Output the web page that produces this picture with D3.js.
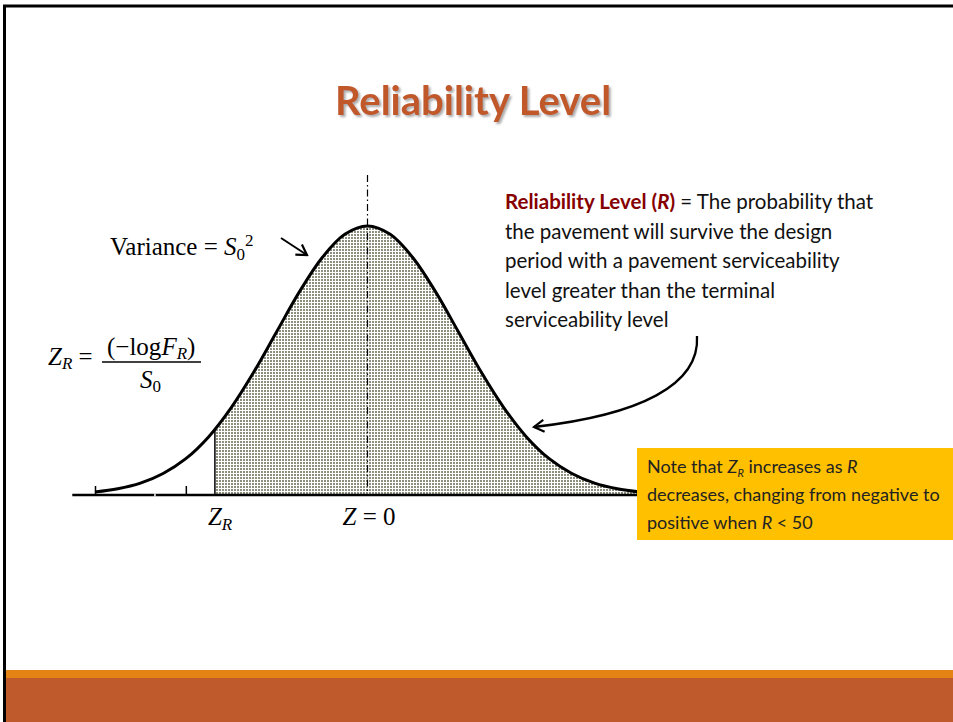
<!DOCTYPE html>
<html>
<head>
<meta charset="utf-8">
<script src="https://cdn.jsdelivr.net/npm/d3@7"></script>
<style>
 body { margin: 0; background: #fff; }
 svg { display: block; }
</style>
</head>
<body>
<div id="slide"></div>
<script>
// curve: z position and relative height (peak = 1)
const zValues = [-3, -2.75, -2.5, -2.25, -2, -1.75, -1.5, -1.25, -1, -0.75, -0.5, -0.25, 0,
 0.25, 0.5, 0.75, 1, 1.25, 1.5, 1.75, 2, 2.25, 2.5, 2.75, 3];
const density = [0.011, 0.023, 0.044, 0.08, 0.135, 0.216, 0.325, 0.458, 0.607, 0.755, 0.882, 0.969, 1,
 0.969, 0.882, 0.755, 0.607, 0.458, 0.325, 0.216, 0.135, 0.08, 0.044, 0.023, 0.011];
const axisExtent = [-3.25, 3];
const axisTicks = [-3, -2];
const gapTicks = [-2.34];
const zR = -1.68;
const zRDensity = 0.245;
const centerTop = 1.19;

const titleText = "Reliability Level";
const definitionLines = [
 "the pavement will survive the design",
 "period with a pavement serviceability",
 "level greater than the terminal",
 "serviceability level",
];
const noteLines = ["decreases, changing from negative to"];

(function () {
 const W = 953, H = 722;
 const svg = d3.select("#slide").append("svg").attr("width", W).attr("height", H);

 const defs = svg.append("defs");
 const pattern = defs.append("pattern")
  .attr("id", "dots").attr("patternUnits", "userSpaceOnUse")
  .attr("width", 3).attr("height", 3);
 pattern.append("rect").attr("width", 3).attr("height", 3).attr("fill", "#fff");
 pattern.append("rect").attr("width", 2).attr("height", 2).attr("fill", "#8c8f7d");

 // soft gray drop shadow for the title
 const shadow = defs.append("filter").attr("id", "shadow")
  .attr("x", "-5%").attr("y", "-20%").attr("width", "115%").attr("height", "150%");
 shadow.append("feDropShadow").attr("dx", 2).attr("dy", 2).attr("stdDeviation", 1.2)
  .attr("flood-color", "#888").attr("flood-opacity", 0.7);

 defs.append("marker")
  .attr("id", "head").attr("viewBox", "-12 -8 14 16")
  .attr("markerWidth", 14).attr("markerHeight", 16)
  .attr("markerUnits", "userSpaceOnUse")
  .attr("orient", "auto")
  .append("path").attr("d", "M-10,-6 L0,0 L-10,6")
  .attr("fill", "none").attr("stroke", "#000").attr("stroke-width", 2.2);

 // footer bands + frame
 svg.append("rect").attr("x", 5).attr("y", 670).attr("width", W).attr("height", 8).attr("fill", "#e48213");
 svg.append("rect").attr("x", 5).attr("y", 678).attr("width", W).attr("height", 44).attr("fill", "#be5a2c");
 svg.append("path").attr("d", `M4.5,${H} V6 H${W}`)
  .attr("fill", "none").attr("stroke", "#000").attr("stroke-width", 3);

 // title
 svg.append("text").attr("x", 473).attr("y", 115)
  .attr("font-family", "Lato, 'Open Sans', sans-serif").attr("font-weight", "bold")
  .attr("font-size", 40).attr("text-anchor", "middle")
  .attr("fill", "#c0592c").attr("filter", "url(#shadow)").text(titleText);

 // scales
 const x = d3.scaleLinear().domain([-3, 3]).range([95, 640]);
 const y = d3.scaleLinear().domain([0, 1]).range([495, 226]);
 const pts = zValues.map((z, i) => [z, density[i]]);

 // shaded region right of Z_R
 defs.append("clipPath").attr("id", "rightOfZR")
  .append("rect").attr("x", x(zR)).attr("y", 0).attr("width", W).attr("height", y(0));
 const area = d3.area().x((d) => x(d[0])).y0(y(0)).y1((d) => y(d[1])).curve(d3.curveCatmullRom);
 svg.append("path").datum(pts).attr("d", area)
  .attr("fill", "url(#dots)").attr("clip-path", "url(#rightOfZR)");

 // center dash-dot line
 svg.append("line").attr("x1", x(0)).attr("x2", x(0)).attr("y1", y(centerTop)).attr("y2", y(0))
  .attr("stroke", "#000").attr("stroke-width", 1.2).attr("stroke-dasharray", "7,3,1.5,3");

 // Z_R vertical
 svg.append("line").attr("x1", x(zR)).attr("x2", x(zR)).attr("y1", y(zRDensity)).attr("y2", y(0))
  .attr("stroke", "#000").attr("stroke-width", 1.5);

 // baseline + ticks
 svg.append("line").attr("x1", x(axisExtent[0])).attr("x2", x(axisExtent[1]))
  .attr("y1", y(0)).attr("y2", y(0)).attr("stroke", "#000").attr("stroke-width", 2.4);
 const axis = svg.append("g").attr("transform", `translate(0,${y(0)})`)
  .call(d3.axisTop(x).tickValues(axisTicks).tickSize(9).tickFormat(""));
 axis.select(".domain").remove();
 axis.selectAll("line").attr("stroke-width", 1.5);
 svg.selectAll(".gap").data(gapTicks).enter().append("line").attr("class", "gap")
  .attr("x1", (d) => x(d)).attr("x2", (d) => x(d)).attr("y1", y(0) - 1.5).attr("y2", y(0) + 1.5)
  .attr("stroke", "#fff").attr("stroke-width", 1.5);

 // curve
 const line = d3.line().x((d) => x(d[0])).y((d) => y(d[1])).curve(d3.curveCatmullRom);
 svg.append("path").datum(pts).attr("d", line)
  .attr("fill", "none").attr("stroke", "#000").attr("stroke-width", 3);

 // math labels
 const serif = "'Liberation Serif', 'DejaVu Serif', serif";
 const m = svg.append("g").attr("font-family", serif).attr("font-size", 25).attr("fill", "#000");

 const v = m.append("text").attr("x", 110).attr("y", 255);
 v.append("tspan").text("Variance = ");
 v.append("tspan").attr("font-style", "italic").text("S");
 v.append("tspan").attr("font-size", 17).attr("dy", 5).text("0");
 v.append("tspan").attr("font-size", 17).attr("dy", -14).text("2");

 svg.append("line").attr("x1", 281).attr("y1", 238).attr("x2", 307).attr("y2", 255)
  .attr("stroke", "#000").attr("stroke-width", 2).attr("marker-end", "url(#head)");

 const zr = m.append("text").attr("x", 48).attr("y", 365);
 zr.append("tspan").attr("font-style", "italic").text("Z");
 zr.append("tspan").attr("font-style", "italic").attr("font-size", 17).attr("dy", 4).text("R");
 zr.append("tspan").attr("dy", -4).text(" = ");
 const num = m.append("text").attr("x", 107).attr("y", 355);
 num.append("tspan").text("(−log");
 num.append("tspan").attr("font-style", "italic").text("F");
 num.append("tspan").attr("font-style", "italic").attr("font-size", 17).attr("dy", 4).text("R");
 num.append("tspan").attr("dy", -4).text(")");
 m.append("line").attr("x1", 102).attr("x2", 201).attr("y1", 362).attr("y2", 362)
  .attr("stroke", "#000").attr("stroke-width", 1.3);
 const den = m.append("text").attr("x", 140).attr("y", 388);
 den.append("tspan").attr("font-style", "italic").text("S");
 den.append("tspan").attr("font-size", 17).attr("dy", 4).text("0");

 const zrl = m.append("text").attr("x", x(zR) - 7).attr("y", 525);
 zrl.append("tspan").attr("font-style", "italic").text("Z");
 zrl.append("tspan").attr("font-style", "italic").attr("font-size", 17).attr("dy", 5).text("R");

 const z0 = m.append("text").attr("x", x(0) - 25).attr("y", 525);
 z0.append("tspan").attr("font-style", "italic").text("Z");
 z0.append("tspan").text(" = 0");

 // definition text
 const sans = "Lato, 'Open Sans', sans-serif";
 const d = svg.append("g").attr("font-family", sans).attr("font-size", 20.5).attr("fill", "#111");
 const first = d.append("text").attr("x", 505).attr("y", 209);
 first.append("tspan").attr("font-weight", "bold").attr("fill", "#860000").text("Reliability Level (");
 first.append("tspan").attr("font-weight", "bold").attr("font-style", "italic").attr("fill", "#860000").text("R");
 first.append("tspan").attr("font-weight", "bold").attr("fill", "#860000").text(")");
 first.append("tspan").text(" = The probability that");
 d.selectAll(".def").data(definitionLines).enter().append("text").attr("class", "def")
  .attr("x", 505).attr("y", (t, i) => 238.5 + i * 29.6).text((t) => t);

 // curved arrow to the shaded tail
 svg.append("path").attr("d", "M697,336 C700,385 640,415 534,427")
  .attr("fill", "none").attr("stroke", "#000").attr("stroke-width", 2.3).attr("marker-end", "url(#head)");

 // note box
 svg.append("rect").attr("x", 637).attr("y", 448).attr("width", W - 637).attr("height", 92).attr("fill", "#ffc000");
 const n = svg.append("g").attr("font-family", sans).attr("font-size", 18).attr("fill", "#222");
 const n1 = n.append("text").attr("x", 647).attr("y", 473);
 n1.append("tspan").text("Note that ");
 n1.append("tspan").attr("font-style", "italic").text("Z");
 n1.append("tspan").attr("font-style", "italic").attr("font-size", 11).attr("dy", 4).text("R");
 n1.append("tspan").attr("dy", -4).text(" increases as ");
 n1.append("tspan").attr("font-style", "italic").text("R");
 n.append("text").attr("x", 647).attr("y", 501).text(noteLines[0]);
 const n3 = n.append("text").attr("x", 647).attr("y", 529);
 n3.append("tspan").text("positive when ");
 n3.append("tspan").attr("font-style", "italic").text("R");
 n3.append("tspan").text(" < 50");
})();
</script>
</body>
</html>
